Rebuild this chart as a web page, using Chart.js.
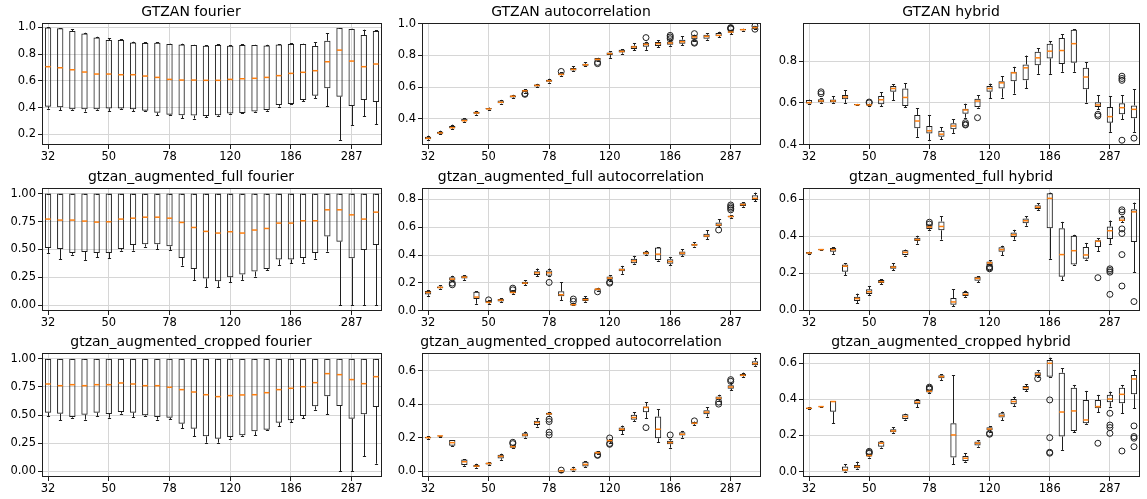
<!DOCTYPE html>
<html>
<head>
<meta charset="utf-8">
<script src="https://cdn.jsdelivr.net/npm/chart.js@4.4.1/dist/chart.umd.min.js"></script>
<style>
html, body { margin: 0; padding: 0; background: #fff; }
body { width: 1147px; height: 499px; position: relative; overflow: hidden; }
canvas { position: absolute; }
</style>
</head>
<body>
<script>
// window sizes (one box per size), only every 5th is labelled
const windowSizes = ['32','35','38','41','45','50','54','59','65','71','78','85','93','101','110',
  '120','131','143','156','170','186','203','222','242','264','287','313','342'];
const xTickLabels = ['32','50','78','120','186','287'];

// box stats: [whisker low, q1, median, q3, whisker high]
const gtzanFourier = [
  [0.392,0.407,0.706,1.000,1.000],[0.382,0.402,0.698,0.993,0.995],[0.382,0.387,0.683,0.973,0.985],
  [0.370,0.387,0.666,0.955,0.960],[0.382,0.387,0.651,0.925,0.930],[0.375,0.394,0.651,0.905,0.918],
  [0.389,0.394,0.646,0.905,0.910],[0.372,0.387,0.646,0.888,0.893],[0.372,0.377,0.636,0.883,0.888],
  [0.342,0.362,0.626,0.885,0.890],[0.342,0.347,0.611,0.875,0.878],[0.320,0.342,0.606,0.873,0.878],
  [0.318,0.340,0.606,0.868,0.870],[0.327,0.337,0.604,0.863,0.865],[0.337,0.342,0.604,0.868,0.875],
  [0.350,0.355,0.611,0.863,0.865],[0.357,0.360,0.616,0.868,0.873],[0.365,0.370,0.619,0.868,0.870],
  [0.377,0.382,0.626,0.865,0.870],[0.407,0.419,0.639,0.873,0.875],[0.425,0.427,0.656,0.875,0.880],
  [0.447,0.457,0.664,0.875,0.878],[0.472,0.489,0.676,0.860,0.890],[0.412,0.544,0.743,0.900,0.955],
  [0.158,0.482,0.830,0.998,0.998],[0.270,0.412,0.748,0.988,0.990],[0.337,0.457,0.706,0.943,0.983],
  [0.277,0.442,0.726,0.973,0.980]];
const gtzanFourierOut = [];

const gtzanAuto = [
  [0.267,0.272,0.278,0.288,0.295],[0.303,0.307,0.312,0.320,0.326],[0.337,0.341,0.345,0.356,0.364],
  [0.381,0.385,0.389,0.402,0.406],[0.427,0.432,0.438,0.446,0.451],[0.459,0.461,0.463,0.469,0.472],
  [0.497,0.499,0.505,0.516,0.520],[0.531,0.535,0.543,0.547,0.552],[0.566,0.572,0.577,0.583,0.588],
  [0.600,0.604,0.611,0.617,0.621],[0.629,0.634,0.640,0.646,0.653],[0.672,0.676,0.680,0.688,0.693],
  [0.701,0.705,0.712,0.720,0.731],[0.731,0.735,0.741,0.747,0.756],[0.764,0.768,0.775,0.783,0.785],
  [0.785,0.802,0.811,0.819,0.825],[0.811,0.819,0.825,0.836,0.840],[0.832,0.840,0.853,0.861,0.878],
  [0.835,0.855,0.869,0.880,0.886],[0.853,0.859,0.874,0.884,0.895],[0.861,0.867,0.878,0.888,0.895],
  [0.863,0.874,0.886,0.899,0.920],[0.893,0.901,0.916,0.926,0.931],[0.899,0.905,0.920,0.930,0.941],
  [0.916,0.922,0.926,0.941,0.949],[0.933,0.943,0.947,0.952,0.962],[0.956,0.958,0.962,0.966,0.968],
  [0.969,0.971,0.975,0.979,0.981]];
const gtzanAutoOut = [[8,0.560],[8,0.555],[11,0.699],[14,0.756],[14,0.748],[18,0.912],
  [20,0.926],[20,0.916],[20,0.905],[22,0.937],[22,0.882],[22,0.877],[25,0.971],[25,0.975],[25,0.967],
  [27,0.985],[27,0.965]];

const gtzanHybrid = [
  [0.596,0.597,0.601,0.614,0.616],[0.600,0.603,0.609,0.617,0.622],[0.600,0.603,0.609,0.616,0.633],
  [0.600,0.617,0.628,0.638,0.660],[0.589,0.590,0.591,0.594,0.595],[0.587,0.588,0.590,0.592,0.596],
  [0.585,0.593,0.615,0.633,0.652],[0.612,0.653,0.669,0.681,0.689],[0.580,0.585,0.626,0.669,0.695],
  [0.437,0.478,0.513,0.542,0.574],[0.421,0.453,0.466,0.489,0.542],[0.426,0.437,0.450,0.466,0.482],
  [0.456,0.474,0.489,0.502,0.521],[0.529,0.548,0.566,0.572,0.596],[0.577,0.580,0.609,0.620,0.636],
  [0.622,0.653,0.669,0.681,0.692],[0.625,0.669,0.696,0.704,0.728],[0.644,0.704,0.744,0.749,0.773],
  [0.669,0.708,0.768,0.784,0.827],[0.739,0.781,0.816,0.845,0.861],[0.739,0.813,0.848,0.884,0.896],
  [0.749,0.787,0.851,0.911,0.930],[0.749,0.792,0.884,0.951,0.954],[0.601,0.665,0.724,0.768,0.795],
  [0.569,0.580,0.590,0.603,0.636],[0.461,0.505,0.534,0.580,0.633],[0.521,0.545,0.577,0.598,0.636],
  [0.461,0.526,0.569,0.588,0.665]];
const gtzanHybridOut = [[1,0.653],[1,0.644],[5,0.604],[5,0.600],[13,0.505],[13,0.497],[13,0.494],
  [14,0.529],[24,0.545],[24,0.537],[26,0.728],[26,0.717],[26,0.708],[26,0.421],[27,0.431]];

const fullFourier = [
  [0.469,0.513,0.772,1,1],[0.415,0.504,0.763,1,1],[0.454,0.469,0.763,1,1],[0.407,0.478,0.754,1,1],
  [0.430,0.469,0.745,1,1],[0.424,0.469,0.748,1,1],[0.490,0.504,0.772,1,1],[0.490,0.540,0.780,1,1],
  [0.525,0.546,0.789,1,1],[0.504,0.546,0.789,1,1],[0.496,0.528,0.780,1,1],[0.356,0.424,0.742,1,1],
  [0.228,0.326,0.697,1,1],[0.163,0.240,0.662,1,1],[0.163,0.217,0.647,1,1],[0.208,0.252,0.659,1,1],
  [0.228,0.276,0.647,1,1],[0.258,0.303,0.674,1,1],[0.318,0.326,0.688,1,1],[0.362,0.410,0.736,1,1],
  [0.377,0.410,0.736,1,1],[0.383,0.424,0.757,1,1],[0.418,0.469,0.757,1,1],[0.481,0.617,0.855,1,1],
  [0.000,0.570,0.855,1,1],[0.000,0.421,0.810,1,1],[0.000,0.496,0.772,1,1],[0.000,0.540,0.834,1,1]];
const fullFourierOut = [];

const fullAuto = [
  [0.107,0.117,0.131,0.141,0.146],[0.158,0.162,0.167,0.174,0.184],[0.213,0.217,0.227,0.241,0.251],
  [0.222,0.232,0.241,0.251,0.256],[0.050,0.084,0.098,0.136,0.141],[0.050,0.055,0.060,0.069,0.074],
  [0.060,0.067,0.076,0.084,0.091],[0.122,0.127,0.131,0.141,0.146],[0.184,0.191,0.198,0.208,0.217],
  [0.246,0.256,0.272,0.284,0.303],[0.246,0.251,0.272,0.289,0.303],[0.074,0.103,0.115,0.139,0.203],
  [0.038,0.038,0.043,0.050,0.055],[0.064,0.069,0.079,0.091,0.103],[0.143,0.146,0.155,0.160,0.165],
  [0.215,0.222,0.234,0.246,0.253],[0.265,0.284,0.294,0.303,0.322],[0.337,0.341,0.358,0.373,0.394],
  [0.399,0.404,0.413,0.423,0.432],[0.360,0.365,0.406,0.454,0.456],[0.327,0.337,0.353,0.370,0.384],
  [0.394,0.401,0.413,0.425,0.442],[0.461,0.466,0.473,0.480,0.490],[0.513,0.528,0.537,0.552,0.576],
  [0.599,0.609,0.616,0.633,0.657],[0.666,0.671,0.676,0.681,0.685],[0.747,0.752,0.762,0.771,0.778],
  [0.786,0.795,0.807,0.829,0.848]];
const fullAutoOut = [[2,0.198],[2,0.186],[5,0.078],[7,0.162],[7,0.150],[10,0.203],[12,0.084],[12,0.067],
  [14,0.136],[15,0.205],[15,0.198],[24,0.580],[25,0.759],[25,0.747],[25,0.736],[25,0.724]];

const fullHybrid = [
  [0.303,0.305,0.310,0.315,0.317],[0.325,0.326,0.328,0.330,0.331],[0.305,0.317,0.328,0.337,0.340],
  [0.190,0.208,0.238,0.247,0.253],[0.038,0.050,0.063,0.073,0.090],[0.081,0.088,0.100,0.113,0.131],
  [0.142,0.147,0.154,0.163,0.167],[0.217,0.224,0.233,0.240,0.253],[0.296,0.299,0.313,0.324,0.328],
  [0.360,0.374,0.382,0.392,0.403],[0.435,0.439,0.450,0.459,0.462],[0.382,0.432,0.453,0.480,0.507],
  [0.023,0.030,0.045,0.066,0.113],[0.073,0.077,0.086,0.099,0.106],[0.152,0.159,0.172,0.181,0.184],
  [0.242,0.245,0.256,0.263,0.270],[0.297,0.317,0.328,0.340,0.349],[0.382,0.396,0.408,0.421,0.435],
  [0.457,0.471,0.484,0.496,0.507],[0.543,0.548,0.557,0.568,0.578],[0.278,0.444,0.605,0.632,0.636],
  [0.163,0.181,0.301,0.444,0.478],[0.242,0.247,0.322,0.403,0.408],[0.274,0.278,0.299,0.342,0.364],
  [0.319,0.342,0.373,0.378,0.390],[0.360,0.385,0.430,0.453,0.485],[0.476,0.482,0.487,0.503,0.510],
  [0.206,0.369,0.532,0.546,0.582]];
const fullHybridOut = [[10,0.476],[10,0.466],[15,0.235],[15,0.229],[15,0.224],[24,0.176],
  [25,0.224],[25,0.215],[25,0.206],[25,0.086],[26,0.543],[26,0.532],[26,0.440],[26,0.415],[26,0.301],
  [26,0.131],[27,0.047]];

const cropFourier = [
  [0.491,0.521,0.775,1,1],[0.453,0.512,0.760,1,1],[0.476,0.482,0.769,1,1],[0.459,0.503,0.760,1,1],
  [0.491,0.521,0.769,1,1],[0.476,0.509,0.769,1,1],[0.512,0.527,0.784,1,1],[0.482,0.521,0.775,1,1],
  [0.491,0.497,0.760,1,1],[0.459,0.482,0.760,1,1],[0.462,0.476,0.746,1,1],[0.385,0.423,0.725,1,1],
  [0.311,0.379,0.704,1,1],[0.254,0.311,0.680,1,1],[0.254,0.290,0.663,1,1],[0.290,0.305,0.672,1,1],
  [0.311,0.320,0.678,1,1],[0.320,0.355,0.680,1,1],[0.364,0.370,0.698,1,1],[0.402,0.432,0.725,1,1],
  [0.438,0.453,0.737,1,1],[0.473,0.491,0.751,1,1],[0.547,0.577,0.787,1,1],[0.506,0.666,0.867,1,1],
  [0.000,0.580,0.858,1,1],[0.000,0.467,0.814,1,1],[0.133,0.506,0.778,1,1],[0.068,0.571,0.840,1,1]];
const cropFourierOut = [];

const cropAuto = [
  [0.192,0.196,0.200,0.204,0.208],[0.206,0.208,0.210,0.212,0.212],[0.150,0.152,0.170,0.186,0.186],
  [0.032,0.036,0.056,0.070,0.070],[0.020,0.024,0.030,0.036,0.044],[0.036,0.040,0.046,0.050,0.052],
  [0.068,0.076,0.088,0.098,0.104],[0.136,0.140,0.146,0.152,0.156],[0.200,0.206,0.216,0.226,0.236],
  [0.266,0.276,0.290,0.300,0.316],[0.332,0.336,0.342,0.348,0.352],[-0.003,-0.001,0.001,0.003,0.005],
  [0.002,0.004,0.010,0.014,0.026],[0.024,0.028,0.040,0.056,0.060],[0.102,0.104,0.110,0.116,0.120],
  [0.168,0.176,0.182,0.188,0.190],[0.222,0.240,0.250,0.260,0.272],[0.300,0.306,0.320,0.336,0.352],
  [0.316,0.352,0.380,0.386,0.412],[0.172,0.196,0.250,0.326,0.370],[0.140,0.160,0.170,0.182,0.190],
  [0.200,0.212,0.220,0.232,0.240],[0.276,0.280,0.286,0.292,0.296],[0.326,0.340,0.352,0.364,0.380],
  [0.420,0.426,0.436,0.446,0.456],[0.482,0.492,0.502,0.512,0.524],[0.560,0.566,0.572,0.580,0.588],
  [0.626,0.632,0.642,0.656,0.676]];
const cropAutoOut = [[7,0.172],[7,0.164],[10,0.310],[10,0.296],[10,0.232],[10,0.216],[11,0.006],
  [14,0.098],[14,0.094],[15,0.198],[15,0.165],[15,0.160],[18,0.260],[20,0.216],[22,0.300],
  [24,0.412],[24,0.400],[25,0.546],[25,0.536]];

const cropHybrid = [
  [0.345,0.347,0.351,0.354,0.356],[0.358,0.359,0.360,0.362,0.363],[0.268,0.332,0.388,0.391,0.391],
  [0.000,0.004,0.009,0.028,0.041],[0.015,0.018,0.028,0.037,0.055],[0.078,0.083,0.089,0.096,0.098],
  [0.133,0.138,0.157,0.166,0.170],[0.214,0.218,0.225,0.234,0.246],[0.288,0.292,0.305,0.318,0.321],
  [0.356,0.373,0.384,0.397,0.402],[0.434,0.438,0.445,0.451,0.452],[0.508,0.517,0.526,0.534,0.539],
  [0.041,0.078,0.203,0.268,0.535],[0.055,0.059,0.074,0.087,0.102],[0.138,0.144,0.157,0.166,0.175],
  [0.222,0.229,0.236,0.246,0.251],[0.286,0.299,0.310,0.323,0.332],[0.364,0.373,0.388,0.402,0.415],
  [0.447,0.452,0.465,0.474,0.484],[0.522,0.530,0.539,0.550,0.563],[0.526,0.526,0.600,0.618,0.631],
  [0.120,0.194,0.330,0.548,0.572],[0.218,0.225,0.336,0.465,0.480],[0.264,0.268,0.286,0.397,0.447],
  [0.329,0.351,0.360,0.397,0.425],[0.360,0.384,0.402,0.425,0.443],[0.323,0.378,0.428,0.465,0.480],
  [0.351,0.428,0.513,0.535,0.563]];
const cropHybridOut = [[5,0.112],[5,0.106],[5,0.101],[10,0.468],[10,0.462],[10,0.457],
  [15,0.212],[15,0.207],[19,0.515],[20,0.397],[20,0.188],[20,0.107],[20,0.102],[24,0.157],
  [25,0.323],[25,0.258],[25,0.244],[25,0.212],[26,0.114],[27,0.253],[27,0.194],[27,0.185],[27,0.138]];

// y tick labels per panel
const ticksTenths = [0.2, 0.4, 0.6, 0.8, 1.0];
const ticksAuto1 = [0.4, 0.6, 0.8, 1.0];
const ticksHybrid1 = [0.4, 0.6, 0.8];
const ticksQuarter = [0, 0.25, 0.5, 0.75, 1.0];
const ticksFullAuto = [0, 0.2, 0.4, 0.6, 0.8];
const ticksLow = [0, 0.2, 0.4, 0.6];

const colX = [42, 422, 803];
const colW = [340, 340, 338];
const rowY = [23, 188, 353];
const rowH = [122, 123, 124];

const panels = [
  {title: 'GTZAN fourier', stats: gtzanFourier, out: gtzanFourierOut, ticks: ticksTenths, min: 0.12, max: 1.033, dec: 1},
  {title: 'GTZAN autocorrelation', stats: gtzanAuto, out: gtzanAutoOut, ticks: ticksAuto1, min: 0.236, max: 1.004, dec: 1},
  {title: 'GTZAN hybrid', stats: gtzanHybrid, out: gtzanHybridOut, ticks: ticksHybrid1, min: 0.398, max: 0.983, dec: 1},
  {title: 'gtzan_augmented_full fourier', stats: fullFourier, out: fullFourierOut, ticks: ticksQuarter, min: -0.05, max: 1.05, dec: 2},
  {title: 'gtzan_augmented_full autocorrelation', stats: fullAuto, out: fullAutoOut, ticks: ticksFullAuto, min: -0.002, max: 0.881, dec: 1},
  {title: 'gtzan_augmented_full hybrid', stats: fullHybrid, out: fullHybridOut, ticks: ticksLow, min: -0.004, max: 0.661, dec: 1},
  {title: 'gtzan_augmented_cropped fourier', stats: cropFourier, out: cropFourierOut, ticks: ticksQuarter, min: -0.05, max: 1.05, dec: 2},
  {title: 'gtzan_augmented_cropped autocorrelation', stats: cropAuto, out: cropAutoOut, ticks: ticksLow, min: -0.035, max: 0.705, dec: 1},
  {title: 'gtzan_augmented_cropped hybrid', stats: cropHybrid, out: cropHybridOut, ticks: ticksLow, min: -0.03, max: 0.657, dec: 1}
];

Chart.defaults.font.family = '"DejaVu Sans", sans-serif';
Chart.defaults.color = '#000';

const LINE = '#1f1f1f';
const MEDIAN = '#ff7f0e';

// whiskers, caps, medians and the axes frame, placed with the chart's own scales
const boxPlugin = {
  id: 'boxParts',
  afterDatasetsDraw(chart) {
    const {ctx, chartArea, scales: {y}} = chart;
    const stats = chart.data.datasets[0].stats;
    const meta = chart.getDatasetMeta(0);
    ctx.save();
    stats.forEach((s, i) => {
      const bar = meta.data[i];
      const x = Math.round(bar.x) + 0.5;
      const hw = bar.width / 2;
      const [lo, q1, med, q3, hi] = s.map(v => y.getPixelForValue(v));
      ctx.lineWidth = 1;
      ctx.strokeStyle = LINE;
      ctx.beginPath();
      ctx.moveTo(x, q1); ctx.lineTo(x, lo);
      ctx.moveTo(x, q3); ctx.lineTo(x, hi);
      ctx.moveTo(x - hw / 2, Math.round(lo) + 0.5); ctx.lineTo(x + hw / 2, Math.round(lo) + 0.5);
      ctx.moveTo(x - hw / 2, Math.round(hi) + 0.5); ctx.lineTo(x + hw / 2, Math.round(hi) + 0.5);
      ctx.stroke();
      ctx.lineWidth = 1.5;
      ctx.strokeStyle = MEDIAN;
      ctx.beginPath();
      ctx.moveTo(bar.x - hw + 0.5, med); ctx.lineTo(bar.x + hw - 0.5, med);
      ctx.stroke();
    });
    ctx.lineWidth = 1;
    ctx.strokeStyle = LINE;
    ctx.strokeRect(chartArea.left + 0.5, chartArea.top + 0.5, chartArea.width - 1, chartArea.height - 1);
    ctx.restore();
  }
};

panels.forEach((p, k) => {
  const r = Math.floor(k / 3), c = k % 3;
  const w = colW[c] + 42 + 4, h = rowH[r] + 24 + 20;
  const canvas = document.createElement('canvas');
  canvas.width = w; canvas.height = h;
  canvas.style.width = w + 'px'; canvas.style.height = h + 'px';
  canvas.style.left = (colX[c] - 42) + 'px';
  canvas.style.top = (rowY[r] - 24) + 'px';
  document.body.appendChild(canvas);

  new Chart(canvas, {
    type: 'bar',
    data: {
      labels: windowSizes,
      datasets: [
        {
          data: p.stats.map(s => [s[1], s[3]]),
          stats: p.stats,
          backgroundColor: 'rgba(0,0,0,0)',
          borderColor: LINE,
          borderWidth: 1,
          borderSkipped: false,
          barPercentage: 0.52,
          categoryPercentage: 1,
          grouped: false
        },
        {
          type: 'scatter',
          data: p.out.map(o => ({x: windowSizes[o[0]], y: o[1]})),
          pointStyle: 'circle',
          pointRadius: 3,
          borderColor: LINE,
          backgroundColor: 'rgba(0,0,0,0)',
          borderWidth: 1
        }
      ]
    },
    options: {
      responsive: false,
      animation: false,
      devicePixelRatio: 1,
      layout: {padding: {left: 0, right: 4, top: 0, bottom: 0}},
      plugins: {
        legend: {display: false},
        tooltip: {enabled: false},
        title: {
          display: true, text: p.title, color: '#000',
          font: {size: 14, weight: 'normal', lineHeight: 1},
          padding: {top: 6, bottom: 4}
        }
      },
      scales: {
        x: {
          grid: {offset: false, color: '#d6d6d6', tickColor: LINE, tickLength: 4},
          border: {display: false},
          ticks: {autoSkip: false, maxRotation: 0, padding: 1, font: {size: 11.5}},
          afterBuildTicks: ax => { ax.ticks = ax.ticks.filter(t => xTickLabels.includes(windowSizes[t.value])); },
          afterFit: ax => { ax.height = 20; }
        },
        y: {
          min: p.min, max: p.max,
          grid: {color: '#d6d6d6', tickColor: LINE, tickLength: 4},
          border: {display: false},
          ticks: {padding: 2, font: {size: 11.5}, callback: v => Number(v).toFixed(p.dec)},
          afterBuildTicks: ax => { ax.ticks = p.ticks.map(v => ({value: v})); },
          afterFit: ax => { ax.width = 42; }
        }
      }
    },
    plugins: [boxPlugin]
  });
});
</script>
</body>
</html>
